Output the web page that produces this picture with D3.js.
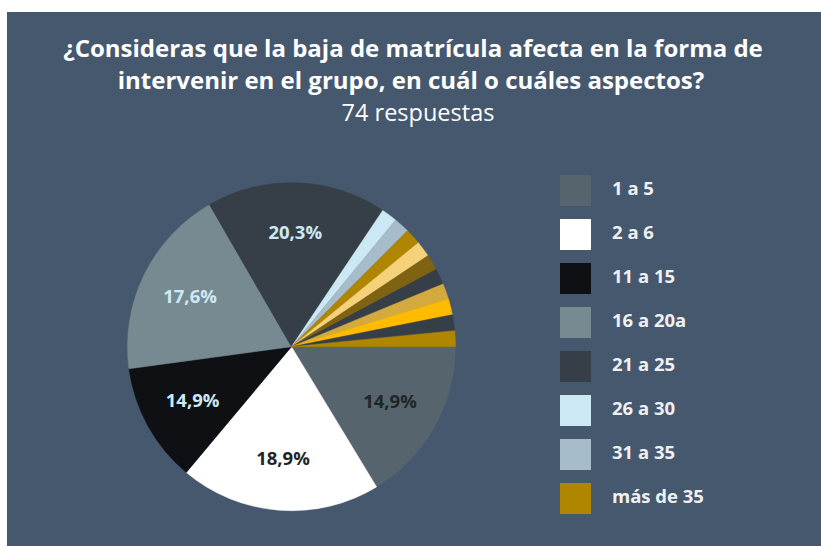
<!DOCTYPE html>
<html>
<head>
<meta charset="utf-8">
<script src="https://cdn.jsdelivr.net/npm/d3@7"></script>
<style>
	body { margin: 0; background: #ffffff; }
	svg { display: block; }
</style>
</head>
<body>
<div id="chart"></div>
<script>
// categories in drawing order (clockwise from 3 o'clock); only the first 8 are in the legend
const categories = ["1 a 5", "2 a 6", "11 a 15", "16 a 20a", "21 a 25", "26 a 30", "31 a 35", "más de 35",
	"otro 1", "otro 2", "otro 3", "otro 4", "otro 5", "otro 6", "otro 7"]
// slice shares (percent of the circle)
const shares = [16.3, 19.75, 11.75, 18.8, 17.7, 1.56, 1.56, 1.56, 1.56, 1.56, 1.56, 1.56, 1.56, 1.56, 1.56]
// printed labels inside the large slices
const pct_labels = ["14,9%", "18,9%", "14,9%", "17,6%", "20,3%", "", "", "", "", "", "", "", "", "", ""]
const colors = ["#56646e", "#ffffff", "#0e1014", "#778991", "#363f47", "#cce8f4", "#a6bcca", "#b08500",
	"#f5d27a", "#7f6212", "#363f47", "#d4aa3f", "#ffbb00", "#363f47", "#b08500"]
const label_colors = ["#1f2626", "#1f2626", "#cde9f5", "#cde9f5", "#cde9f5"]
const legend_count = 8

const width = 821
const height = 546
const cx = 291.5
const cy = 346.7
const radius = 164
const label_r = 113
const font = "'Open Sans', 'Noto Sans', sans-serif"

const svg = d3.select("#chart")
	.append("svg")
	.attr("width", width)
	.attr("height", height)

// card background
svg.append("rect")
	.attr("x", 7)
	.attr("y", 12)
	.attr("width", width - 7)
	.attr("height", height - 12)
	.attr("fill", "#46586e")

// titles
const title = svg.append("g")
	.attr("font-family", font)
	.attr("fill", "#ffffff")
	.attr("text-anchor", "middle")

title.append("text")
	.attr("x", 413)
	.attr("y", 57)
	.attr("font-size", 24)
	.attr("font-weight", "bold")
	.text("¿Consideras que la baja de matrícula afecta en la forma de")

title.append("text")
	.attr("x", 411)
	.attr("y", 89)
	.attr("font-size", 24)
	.attr("font-weight", "bold")
	.text("intervenir en el grupo, en cuál o cuáles aspectos?")

title.append("text")
	.attr("x", 418)
	.attr("y", 121)
	.attr("font-size", 23.5)
	.text("74 respuestas")

// pie
const pie = d3.pie()
	.sort(null)
	.value(d => d)
	.startAngle(Math.PI / 2)
	.endAngle(Math.PI / 2 + 2 * Math.PI)

const arcs = pie(shares)

const arc = d3.arc()
	.innerRadius(0)
	.outerRadius(radius)

const label_arc = d3.arc()
	.innerRadius(label_r)
	.outerRadius(label_r)

const g = svg.append("g")
	.attr("transform", `translate(${cx},${cy})`)

g.selectAll("path")
	.data(arcs)
	.join("path")
	.attr("d", arc)
	.attr("fill", (d, i) => colors[i])
	.attr("stroke", (d, i) => colors[i])
	.attr("stroke-width", 0.5)

g.selectAll("text")
	.data(arcs.filter((d, i) => pct_labels[i] !== ""))
	.join("text")
	.attr("transform", d => `translate(${label_arc.centroid(d)})`)
	.attr("text-anchor", "middle")
	.attr("dy", "0.3em")
	.attr("font-family", font)
	.attr("font-size", 18.5)
	.attr("font-weight", "bold")
	.attr("fill", d => label_colors[d.index])
	.text(d => pct_labels[d.index])

// legend
const legend_y = d3.scaleBand()
	.domain(categories.slice(0, legend_count))
	.range([168.5, 168.5 + 44 * legend_count])

const legend = svg.append("g")
	.attr("font-family", font)

categories.slice(0, legend_count).forEach((cat, i) => {
	legend.append("rect")
		.attr("x", 560)
		.attr("y", legend_y(cat) + 6.5)
		.attr("width", 31)
		.attr("height", 31)
		.attr("fill", colors[i])
	legend.append("text")
		.attr("x", 612)
		.attr("y", legend_y(cat) + 26.5)
		.attr("font-size", 18.5)
		.attr("font-weight", "bold")
		.attr("fill", "#f0f0f0")
		.text(cat)
})
</script>
</body>
</html>
